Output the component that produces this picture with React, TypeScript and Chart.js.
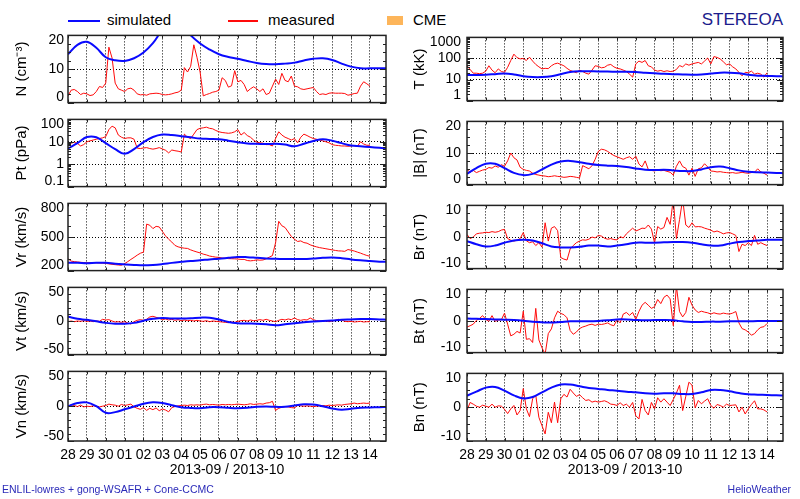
import React, { useEffect, useRef } from 'react';
import { Chart, registerables } from 'chart.js';

Chart.register(...registerables);

// ---------------- data ----------------
const dayLabels = ['28', '29', '30', '01', '02', '03', '04', '05', '06', '07', '08', '09', '10', '11', '12', '13', '14'];
const xAxisTitle = '2013-09 / 2013-10';
const simStepDay = 0.5; // simulated sampled every 12 h from 2013-09-28 00:00
const measStepDay = 1 / 6; // measured sampled every 4 h from 2013-09-28 00:00
const xMaxDay = 16.85;

const simN = [14.4, 17.2, 18.1, 16.3, 13.5, 12.6, 12.4, 13.2, 14.9, 17.7, 21.5, 23.5, 23, 20, 17.6, 15.8, 14.4, 13.6, 13.05, 12.4, 11.8, 11.46, 11.4, 11.6, 11.9, 12.55, 13.05, 13.2, 12.7, 11.6, 10.7, 10.2, 10.2, 10.2, 10.2];
const measN = [2.0, 3.7, 3.9, 3.3, 2.4, 2.8, 2.6, 2.1, 2.3, 3.3, 4.8, 4.5, 5.8, 16.5, 13.3, 5.8, 4.1, 3.7, 3.3, 4.1, 4.3, 3.7, 2.6, 2.3, 2.4, 2.2, 2.6, 2.7, 2.8, 2.7, 2.4, 2.3, 2.4, 2.6, 2.9, 3.1, 3.7, 10.4, 9.1, 10.8, 17.2, 13.5, 9.1, 2.0, 2.4, 2.7, 3.1, 3.3, 3.7, 7.4, 6.6, 4.6, 5.0, 9.5, 6.2, 6.6, 5.4, 3.3, 4.1, 4.7, 4.1, 3.3, 4.1, 2.4, 2.8, 4.9, 7.0, 5.4, 8.7, 6.6, 6.2, 7.9, 4.9, 4.7, 4.1, 3.9, 4.1, 4.3, 4.5, 3.3, 2.4, 2.6, 2.4, 2.8, 2.9, 2.8, 2.8, 2.8, 2.7, 2.2, 2.4, 2.7, 2.8, 4.9, 6.2, 5.6, 4.9];

const simPt = [5.0, 8.7, 16.3, 16, 8.7, 4.7, 2.9, 4.7, 9.6, 16.3, 21, 20, 17.9, 15.8, 13.9, 13.5, 13.1, 11.2, 9.6, 8.5, 8.2, 7.9, 8.2, 7.5, 6.3, 8.2, 10.8, 13.1, 11.2, 8.7, 6.8, 6.3, 5.8, 5.4, 5.0];
const measPt = [9.5, 8.7, 9.5, 8.5, 6.5, 7.5, 10, 11, 12, 13, 14, 15, 17, 35, 50, 42, 20, 16, 14, 15, 15, 13, 5.2, 5.0, 5.3, 5.5, 5.0, 4.7, 5.0, 5.5, 4.8, 4.2, 3.2, 4.3, 4.0, 3.8, 3.5, 22, 16, 14, 22, 35, 40, 42, 45, 40, 38, 32, 28, 26, 25, 24, 25, 28, 35, 20, 26, 19, 16, 12, 9.6, 9, 8.7, 7.5, 7.5, 6.5, 14, 28, 20, 16, 14, 12, 14, 9, 16, 22, 19, 16, 14, 13, 12, 11, 10, 9, 7.5, 7.0, 6.8, 6.5, 6.5, 6.3, 6.5, 6.8, 6.3, 10, 8, 7, 7];

const simVr = [269, 269, 266, 269, 269, 261, 255, 250, 247, 250, 258, 269, 278, 286, 292, 300, 306, 314, 322, 320, 314, 308, 306, 303, 303, 303, 308, 314, 317, 311, 300, 292, 286, 280, 278];
const measVr = [305, 285, 280, 277, 274, 272, 270, 271, 272, 270, 268, 267, 264, 260, 256, 253, 250, 248, 262, 280, 300, 318, 338, 355, 365, 615, 605, 575, 595, 590, 550, 510, 480, 455, 425, 412, 405, 400, 398, 385, 375, 366, 358, 347, 340, 330, 325, 320, 318, 312, 310, 307, 306, 305, 303, 300, 300, 290, 287, 290, 296, 293, 295, 305, 320, 334, 450, 640, 600, 585, 545, 505, 480, 460, 465, 450, 445, 430, 420, 412, 405, 400, 395, 390, 385, 380, 376, 375, 372, 388, 382, 375, 365, 356, 345, 335, 328];

const simVt = [6.4, 3.2, 1.8, -0.5, -2.8, -4.1, -4.1, -2.8, 0.5, 3.2, 4.6, 3.7, 3.7, 4.1, 5, 5, 2.3, -1.4, -3.2, -3.7, -4.1, -5, -6.4, -5, -3.2, -1.8, -0.9, 0, 0.9, 1.8, 2.3, 2.8, 2.8, 2.3, 1.8];
const measVt = [-1, 0, -1, 0, -0.5, 0.5, -0.5, 0, -1, 0, -0.5, 2.5, 1.5, 2, 0, -1.5, -1, -2, -1, -3, -4.5, -1, 1, 2, 1, 2.5, 6, 7, 5.5, 4, 2, 3, 1.5, 2.5, 1, 2, 0.5, 1.5, 0.5, 1, 0, 1, 0, -0.5, 0.5, -1, 0, -0.5, -1, -1.5, -2, -2.5, -1.5, -2, -0.5, 0.5, 1, 0, 1.5, 0.5, 1, 2, 1, 2.5, 1, 0, -1, 1, 2.5, 1.5, 3, 2, 4.5, 2, 1, 2, 1.5, 4.5, 2, 0.5, 0, -0.5, 0, -1, 0, 1, 2.5, 1.5, -0.5, -1, -0.5, -1.5, -1, -0.5, -1.5, -1, -1];

const simVn = [0, 4.6, 5.5, 0, -9.5, -8.5, -4.5, -0.5, 3.5, 5.5, 4.5, 1.5, -1.4, -2.5, -2.8, -1.4, -1.4, -2.3, -2.8, -2.3, -0.9, -0.5, -0.9, -0.9, 0.9, 2.8, 2.3, 0, -3.2, -5, -3.7, -2.3, -1.9, -1.4, -0.9];
const measVn = [0, 2, 1, -0.5, 1.5, -1, 0, -0.5, 0.5, 0, -1, 0, 1, 3, 2, 1.5, 0, 2.5, 1, 2, 3, -1, -3, -4.5, -2, -6, -3, -5, -2.5, -6.5, -4, -5.5, -8, -2, -0.5, 0.5, 1, 1.5, 1, 2, 1.5, 2, 1.5, 2.5, 3, 2, 2.5, 2, 1.5, 2.5, 2, 2.5, 2, 2.5, 3, 2.5, 2, 2.5, 3.5, 2.5, 3, 3.5, 3, 4.5, 5, 7, -6, -3, -1.5, -0.5, -1, -2, -2.5, 1, 0.5, 0, 0.5, 0, -0.5, 0, 0.5, 1, 0.5, 1.5, 1, 1.5, 2, 1.5, 2.5, 3, 3.5, 4.5, 3.5, 4, 4.5, 4, 4.5];

const simT = [16.3, 16.3, 16.9, 18, 19.2, 17.4, 14.4, 13.1, 13.1, 14.4, 18, 22.6, 24.8, 24.8, 24, 24, 23.3, 23.3, 22.6, 21.1, 19.8, 18.6, 18, 17.4, 16.9, 17.4, 19.2, 21.1, 21.1, 19.8, 16.9, 15.3, 14.8, 14.4, 13.9];
const measT = [45, 30, 20, 20, 19, 20, 25, 45, 28, 21, 32, 24, 22, 38, 80, 160, 110, 95, 100, 80, 115, 75, 52, 40, 32, 34, 33, 45, 55, 60, 52, 45, 34, 27, 24, 21, 28, 24, 20, 18, 28, 45, 42, 36, 38, 48, 52, 40, 34, 32, 28, 24, 18, 13, 55, 75, 65, 80, 45, 40, 28, 25, 27, 24, 26, 24, 25, 30, 46, 40, 55, 48, 55, 60, 65, 55, 75, 105, 55, 123, 112, 95, 70, 50, 55, 40, 32, 22, 15, 22, 21, 25, 18, 20, 18, 13, 21];

const simB = [3.4, 5.2, 6.6, 6.6, 5.2, 3.7, 3, 3.4, 4.8, 6.3, 7.3, 7.5, 7.1, 6.6, 6.2, 6, 5.9, 5.6, 5.1, 4.7, 4.6, 4.7, 4.5, 4.3, 4.3, 4.8, 5.5, 5.7, 5.2, 4.5, 4.1, 3.9, 3.8, 3.7, 3.6];
const measB = [4.8, 3.9, 4.5, 3.8, 4.2, 4.6, 4.8, 5.4, 5.2, 5.9, 5.5, 6.3, 5.8, 7.5, 10, 8.5, 7.8, 5.5, 4.8, 4.5, 4.3, 3.6, 3.2, 3.0, 2.8, 2.7, 2.5, 2.6, 2.8, 2.6, 2.5, 2.3, 2.4, 2.6, 2.5, 2.3, 2.1, 6.0, 5.5, 5.0, 6.0, 8.0, 10.5, 11.2, 11.0, 10.5, 9.8, 9.2, 8.8, 8.4, 8.0, 8.5, 8.8, 8.0, 9.0, 6.5, 5.6, 7.5, 4.8, 4.5, 4.3, 4.7, 4.4, 4.5, 4.2, 3.9, 3.0, 5.8, 7.5, 5.7, 5.2, 3.0, 5.2, 2.6, 5.0, 5.3, 6.6, 5.6, 4.3, 4.2, 4.0, 4.1, 3.9, 3.8, 3.7, 3.8, 3.6, 3.7, 3.9, 3.7, 3.6, 3.8, 3.9, 5.0, 4.0, 3.6, 3.0];

const simBr = [-1.3, -2.3, -3, -2.7, -1.8, -1.1, -0.9, -1.1, -2, -3, -3.3, -3.3, -3.1, -2.7, -2.7, -3, -2.7, -2.3, -1.8, -1.8, -1.8, -1.7, -1.6, -1.6, -1.8, -2.3, -2.7, -2.7, -2.1, -1.6, -1.3, -1.1, -0.9, -0.9, -0.9];
const measBr = [0.8, -0.5, 0, 1.0, 1.2, 1.3, 1.5, 1.4, 1.7, 1.5, 1.7, 2.2, 2.4, -0.5, -1.0, -1.3, -1.0, -0.5, 1.4, -1.2, -1.8, -1.5, -2.7, -1.8, -3.2, 4.5, -1.3, 2.8, 3.3, 2.0, -6.5, -7.0, -7.3, -3.8, -2.7, -1.8, -1.3, -0.9, -1.0, -0.7, 0, -0.3, 0.5, 0.3, -0.4, -0.7, -0.5, -0.8, -0.9, 0.1, -0.3, 1.0, 1.9, 2.8, 1.9, 2.3, 2.8, 2.7, 3.8, 2.5, -1.8, 3.3, 2.5, 3.0, 6.2, 4.0, 12, -0.5, 5.5, 12, 3.8, 3.0, 4.5, 3.2, 3.3, 3.2, 2.8, 2.5, 2.2, 1.6, 1.9, 1.5, 1.0, 1.3, 1.4, 1.0, 0.5, -4.6, -2.3, -2.7, -1.8, -2.7, 0.5, -2.3, -1.8, -2.3, -2.7];

const simBt = [0.8, 0.7, 0.6, 0.5, 0.4, 0.3, 0.1, -0.2, -0.4, -0.5, -0.3, -0.1, -0.1, -0.1, 0, 0.2, 0.5, 0.5, 0.3, 0.2, 0.3, 0.3, 0.2, -0.1, -0.3, -0.3, -0.2, -0.2, -0.1, -0.1, -0.1, 0, 0, 0, 0];
const measBt = [-1.9, -1.5, -1.0, 0.2, 0.8, 1.7, 0.5, -0.1, 1.7, -0.1, 0.3, 0.4, 2.5, -1.0, -4.7, -4.2, -3.3, -3.8, 3.1, -5.8, -5.6, -6.8, 4.0, -6.0, -8.5, -10.5, -4.0, -2.5, 1.0, 3.1, 2.4, 2.0, 1.0, -3.0, -4.2, -3.5, -2.4, -1.9, -1.6, -1.2, -1.0, -1.4, -1.0, -1.1, -0.9, -0.6, -1.2, -1.5, 0.4, -0.6, 2.2, 2.7, 1.8, 2.7, 0.5, 3.0, 5.0, 5.9, 5.0, 4.0, 4.5, 6.8, 5.5, 7.5, 8.2, 7.0, -1.5, 11, 3.0, 1.3, 2.7, 7.5, 5.0, 3.5, 2.7, 3.1, 2.8, 2.6, 2.2, 2.6, 2.3, 2.2, 2.5, 2.3, 2.2, 2.5, 3.0, -0.6, -2.4, -2.8, -3.5, -4.5, -4.0, -2.8, -2.0, -1.8, -0.8];

const simBn = [3.4, 4.6, 5.8, 6, 4.9, 3.5, 2.6, 3, 4.4, 5.8, 6.7, 6.7, 6.2, 5.7, 5.4, 5.1, 4.9, 4.6, 4.4, 4.1, 4, 4.1, 4.1, 3.9, 3.9, 4.4, 5.1, 5.1, 4.7, 4.2, 3.8, 3.7, 3.6, 3.5, 3.4];
const measBn = [-0.9, 1.4, 0.9, 0.3, 0, 0.6, 0.3, 0, 0.9, 0, 0.4, 0.3, -0.6, -1.9, -0.5, 0.5, -2.3, -1.0, 5.5, -0.5, -2.8, 2.5, 3.5, -3.0, -5.5, -7.9, -1.5, -4.6, 1.5, -4.6, 2.5, 3.8, 3.0, 5.3, 4.2, 3.2, 3.7, 2.8, 2.0, 2.2, 1.5, 1.8, 1.5, 1.7, 1.9, 1.5, 0.9, 0.8, 0.5, 1.3, 0.5, 0.9, 0, 1.4, -2.5, -3.5, 2.3, -1.0, -2.3, 1.4, -0.5, 2.8, 1.5, 2.5, 1.5, 0.5, 2.3, 4.2, 6.5, -1.0, 3.2, 7.4, 6.5, -0.2, 2.0, 1.0, 1.8, 2.5, 0.5, -0.3, 0.8, 0.5, 0, 0.9, 0.5, 0.6, 0.7, -1.4, 0, -2.0, -0.5, 0.8, 1.9, -0.5, -0.5, -0.8, -1.4];

// y tick values and labels
const nTicks = [0, 10, 20];
const nTickLabels = ['0', '10', '20'];
const ptTicks = [0.1, 1, 10, 100];
const ptTickLabels = ['0.1', '1', '10', '100'];
const vrTicks = [200, 500, 800];
const vrTickLabels = ['200', '500', '800'];
const vTicks = [-50, 0, 50];
const vTickLabels = ['-50', '0', '50'];
const tTicks = [1, 10, 100, 1000];
const tTickLabels = ['1', '10', '100', '1000'];
const bTicks = [0, 10, 20];
const bTickLabels = ['0', '10', '20'];
const bcTicks = [-10, 0, 10];
const bcTickLabels = ['-10', '0', '10'];

// ---------------- style / layout ----------------
const FONT = "'Liberation Sans', Arial, Helvetica, sans-serif";
const SIM_COLOR = '#0a0aff';
const MEAS_COLOR = '#ff0a0a';
const CME_COLOR = '#fdb55a';
const FRAME_COLOR = '#222222';
const GRID_COLOR = '#000000';
const NAVY = '#1c1c8c';
const FOOT_COLOR = '#2a2ab8';

const PLOT_TOP0 = 33;
const PITCH = 84;
const PLOT_H = 72;
const PAD_V = 10;
const X_AXIS_H = 40;

const COLS = [
  { x: 0, w: 400, axisW: 68, padRight: 14, titlePad: 13, tickPad: 4 },
  { x: 400, w: 400, axisW: 67, padRight: 17, titlePad: 11, tickPad: 6 },
];

type PanelDef = {
  col: number;
  row: number;
  title: string;
  sim: number[];
  meas: number[];
  type: 'linear' | 'logarithmic';
  ticks: number[];
  labels: string[];
  minor: number; // 0 => logarithmic minor ticks
};

const panels: PanelDef[] = [
  { col: 0, row: 0, title: 'N (cm\u207B\u00B3)', sim: simN, meas: measN, type: 'linear', ticks: nTicks, labels: nTickLabels, minor: 2.5 },
  { col: 0, row: 1, title: 'Pt (pPa)', sim: simPt, meas: measPt, type: 'logarithmic', ticks: ptTicks, labels: ptTickLabels, minor: 0 },
  { col: 0, row: 2, title: 'Vr (km/s)', sim: simVr, meas: measVr, type: 'linear', ticks: vrTicks, labels: vrTickLabels, minor: 100 },
  { col: 0, row: 3, title: 'Vt (km/s)', sim: simVt, meas: measVt, type: 'linear', ticks: vTicks, labels: vTickLabels, minor: 10 },
  { col: 0, row: 4, title: 'Vn (km/s)', sim: simVn, meas: measVn, type: 'linear', ticks: vTicks, labels: vTickLabels, minor: 10 },
  { col: 1, row: 0, title: 'T (kK)', sim: simT, meas: measT, type: 'logarithmic', ticks: tTicks, labels: tTickLabels, minor: 0 },
  { col: 1, row: 1, title: '|B| (nT)', sim: simB, meas: measB, type: 'linear', ticks: bTicks, labels: bTickLabels, minor: 2.5 },
  { col: 1, row: 2, title: 'Br (nT)', sim: simBr, meas: measBr, type: 'linear', ticks: bcTicks, labels: bcTickLabels, minor: 2.5 },
  { col: 1, row: 3, title: 'Bt (nT)', sim: simBt, meas: measBt, type: 'linear', ticks: bcTicks, labels: bcTickLabels, minor: 2.5 },
  { col: 1, row: 4, title: 'Bn (nT)', sim: simBn, meas: measBn, type: 'linear', ticks: bcTicks, labels: bcTickLabels, minor: 2.5 },
];

function minorValues(def: PanelDef): number[] {
  const lo = def.ticks[0];
  const hi = def.ticks[def.ticks.length - 1];
  const out: number[] = [];
  if (def.minor > 0) {
    const n = Math.round((hi - lo) / def.minor);
    for (let i = 1; i < n; i++) {
      const v = lo + i * def.minor;
      if (!def.ticks.some((t) => Math.abs(t - v) < 1e-9)) out.push(v);
    }
  } else {
    for (let d = Math.round(Math.log10(lo)); d < Math.round(Math.log10(hi)); d++) {
      for (let m = 2; m <= 9; m++) out.push(m * Math.pow(10, d));
    }
  }
  return out;
}

function Panel({ def }: { def: PanelDef }) {
  const ref = useRef<HTMLCanvasElement | null>(null);
  const col = COLS[def.col];
  const isBottom = def.row === 4;
  const canvasH = PAD_V + PLOT_H + (isBottom ? X_AXIS_H : PAD_V);
  const top = PLOT_TOP0 + def.row * PITCH - PAD_V;

  useEffect(() => {
    const canvas = ref.current;
    if (!canvas) return;
    const yMin = def.ticks[0];
    const yMax = def.ticks[def.ticks.length - 1];
    const minors = minorValues(def);

    const framePlugin = {
      id: 'idlFrame',
      beforeDraw(chart: any) {
        const ys = chart.scales.y;
        if (!ys || typeof ys.getLabelItems !== 'function') return;
        const items = ys.getLabelItems();
        if (!items || items.length < 2) return;
        const shift = (item: any, dy: number) => {
          if (item && item.options && item.options.translation && !item.__shifted) {
            item.options.translation[1] += dy;
            item.__shifted = true;
          }
        };
        shift(items[0], -5);
        shift(items[items.length - 1], 4.5);
      },
      afterDraw(chart: any) {
        const { ctx, chartArea: a } = chart;
        const xs = chart.scales.x;
        const ys = chart.scales.y;
        ctx.save();
        ctx.strokeStyle = FRAME_COLOR;
        ctx.lineWidth = 1;
        ctx.beginPath();
        const yTick = (v: number, len: number) => {
          const p = Math.round(ys.getPixelForValue(v)) + 0.5;
          ctx.moveTo(a.left, p);
          ctx.lineTo(a.left + len, p);
          ctx.moveTo(a.right, p);
          ctx.lineTo(a.right - len, p);
        };
        def.ticks.forEach((v) => yTick(v, 6));
        minors.forEach((v) => yTick(v, 3));
        dayLabels.forEach((_, i) => {
          const p = Math.round(xs.getPixelForValue(i)) + 0.5;
          ctx.moveTo(p, a.bottom);
          ctx.lineTo(p, a.bottom - 3);
          ctx.moveTo(p, a.top);
          ctx.lineTo(p, a.top + 3);
        });
        ctx.stroke();
        ctx.lineWidth = 1.5;
        ctx.strokeRect(a.left, a.top, a.right - a.left, a.bottom - a.top);
        ctx.restore();
      },
    };

    const simPts = def.sim.map((v, i) => ({ x: i * simStepDay, y: v }));
    const measPts = def.meas.map((v, i) => ({ x: i * measStepDay, y: v }));

    const chart = new Chart(canvas, {
      type: 'line',
      data: {
        datasets: [
          { label: 'simulated', data: simPts, borderColor: SIM_COLOR, borderWidth: 2, pointRadius: 0, tension: 0.4, fill: false },
          { label: 'measured', data: measPts, borderColor: MEAS_COLOR, borderWidth: 1, pointRadius: 0, tension: 0, fill: false },
        ],
      },
      options: {
        responsive: false,
        animation: false,
        events: [],
        layout: { padding: { top: PAD_V, right: col.padRight, bottom: isBottom ? 0 : PAD_V, left: 0 } },
        plugins: { legend: { display: false }, tooltip: { enabled: false } },
        scales: {
          x: {
            type: 'linear',
            min: 0,
            max: xMaxDay,
            afterBuildTicks: (s: any) => {
              s.ticks = dayLabels.map((_, i) => ({ value: i }));
            },
            afterFit: (s: any) => {
              s.height = isBottom ? X_AXIS_H : 0;
            },
            ticks: {
              display: isBottom,
              autoSkip: false,
              maxRotation: 0,
              minRotation: 0,
              padding: 6,
              color: '#000',
              font: { family: FONT, size: 14 },
              callback: (_v: any, i: number) => dayLabels[i],
            },
            grid: {
              drawTicks: false,
              lineWidth: 1,
              color: (c: any) => (c.tick && c.tick.value > 0 && c.tick.value < xMaxDay ? GRID_COLOR : 'rgba(0,0,0,0)'),
            },
            border: { display: false, dash: [1, 2] },
            title: {
              display: isBottom,
              text: xAxisTitle,
              color: '#000',
              font: { family: FONT, size: 14 },
              padding: { top: 0, bottom: 2 },
            },
          },
          y: {
            type: def.type,
            min: yMin,
            max: yMax,
            afterBuildTicks: (s: any) => {
              s.ticks = def.ticks.map((v) => ({ value: v }));
            },
            afterFit: (s: any) => {
              s.width = col.axisW;
            },
            ticks: {
              autoSkip: false,
              padding: col.tickPad,
              color: '#000',
              font: { family: FONT, size: 14 },
              callback: (_v: any, i: number) => def.labels[i],
            },
            grid: {
              drawTicks: false,
              lineWidth: 1,
              color: (c: any) => (c.tick && c.tick.value > yMin && c.tick.value < yMax ? GRID_COLOR : 'rgba(0,0,0,0)'),
            },
            border: { display: false, dash: [1, 2] },
            title: {
              display: true,
              text: def.title,
              color: '#000',
              font: { family: FONT, size: 15 },
              padding: { top: col.titlePad, bottom: 0 },
            },
          },
        },
      } as any,
      plugins: [framePlugin as any],
    });
    return () => chart.destroy();
  }, []);

  return (
    <div style={{ position: 'absolute', left: col.x, top, width: col.w, height: canvasH }}>
      <canvas ref={ref} width={col.w} height={canvasH} style={{ display: 'block', width: col.w, height: canvasH }} />
    </div>
  );
}

const txt: React.CSSProperties = {
  position: 'absolute',
  fontFamily: FONT,
  fontSize: 15,
  lineHeight: '20px',
  whiteSpace: 'nowrap',
  color: '#000',
};

export default function App() {
  return (
    <div
      style={{
        position: 'absolute',
        left: 0,
        top: 0,
        width: 800,
        height: 499,
        background: '#fff',
        overflow: 'hidden',
        fontFamily: FONT,
      }}
    >
      <div style={{ position: 'absolute', left: 68, top: 20, width: 32, height: 2, background: SIM_COLOR }} />
      <div style={{ ...txt, left: 107, top: 10 }}>simulated</div>
      <div style={{ position: 'absolute', left: 228, top: 20, width: 30, height: 1.5, background: MEAS_COLOR }} />
      <div style={{ ...txt, left: 268, top: 10 }}>measured</div>
      <div style={{ position: 'absolute', left: 387, top: 16, width: 16, height: 9, background: CME_COLOR }} />
      <div style={{ ...txt, left: 413, top: 10 }}>CME</div>
      <div style={{ ...txt, right: 17, top: 9, fontSize: 17, lineHeight: '22px', color: NAVY }}>STEREOA</div>

      {panels.map((p, i) => (
        <Panel key={i} def={p} />
      ))}

      <div style={{ ...txt, left: 2, top: 483, fontSize: 10.5, lineHeight: '13px', color: FOOT_COLOR }}>
        ENLIL-lowres + gong-WSAFR + Cone-CCMC
      </div>
      <div style={{ ...txt, right: 9, top: 483, fontSize: 10.5, lineHeight: '13px', color: FOOT_COLOR }}>HelioWeather</div>
    </div>
  );
}
